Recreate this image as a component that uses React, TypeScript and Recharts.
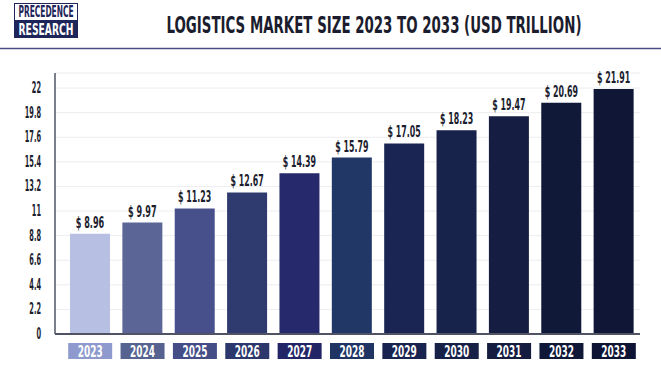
import { Bar, BarChart, CartesianGrid, Cell, LabelList, XAxis, YAxis } from 'recharts';

const years = ['2023', '2024', '2025', '2026', '2027', '2028', '2029', '2030', '2031', '2032', '2033'];
const marketSize = [8.96, 9.97, 11.23, 12.67, 14.39, 15.79, 17.05, 18.23, 19.47, 20.69, 21.91];
const yTicks = [0, 2.2, 4.4, 6.6, 8.8, 11, 13.2, 15.4, 17.6, 19.8, 22];
const title = 'LOGISTICS MARKET SIZE 2023 TO 2033 (USD TRILLION)';

const barColors = [
  '#b7c0e2', '#5b6697', '#48508b', '#2f3a6f', '#26296b', '#213867',
  '#1b2553', '#18234b', '#151e42', '#111939', '#0f1636'
];
const tagColors = [
  '#8e9acd', '#56628f', '#444d86', '#2c376b', '#232666', '#1f3463',
  '#19234f', '#172148', '#141c3f', '#101837', '#0e1534'
];

const data = years.map((year, i) => ({ year, value: marketSize[i] }));

const condensed = '"DejaVu Sans Condensed", "DejaVu Sans", sans-serif';
const ink = '#1b1d2e';

// squeeze text horizontally so it reads like the narrow poster font
function Narrow({ x, y, text, width, size, fill, anchor = 'middle' }: any) {
  const sx = 0.72;
  return (
    <text
      transform={`translate(${x},${y}) scale(${sx},1)`}
      textAnchor={anchor}
      fill={fill}
      fontFamily={condensed}
      fontWeight={700}
      fontSize={size}
      textLength={width / sx}
      lengthAdjust="spacingAndGlyphs"
    >
      {text}
    </text>
  );
}

function YearTag({ x, y, payload, index }: any) {
  return (
    <g>
      <rect x={x - 22} y={y + 1} width={44} height={16} fill={tagColors[index]} />
      <Narrow x={x} y={y + 14.5} text={payload.value} width={25} size={16} fill="#fff" />
    </g>
  );
}

function ValueLabel({ x, y, width, value }: any) {
  const text = `$ ${Number(value).toFixed(2)}`;
  return <Narrow x={x + width / 2} y={y - 6} text={text} width={text.length * 4.75} size={15} fill={ink} />;
}

function YTick({ x, y, payload }: any) {
  const s = String(payload.value);
  const w = s.replace('.', '').length * 4.6 + (s.includes('.') ? 2.5 : 0);
  return <Narrow x={x} y={y + 5} text={s} width={w} size={15} fill={ink} anchor="end" />;
}

function Header() {
  return (
    <svg width={661} height={52} style={{ position: 'absolute', left: 0, top: 0 }}>
      <rect x={14.5} y={3.5} width={63} height={34} fill="#fff" stroke="#1e2558" strokeWidth={1} />
      <rect x={14.5} y={20} width={63} height={17.5} fill="#1e2558" />
      <Narrow x={46} y={17} text="PRECEDENCE" width={55} size={15} fill="#1e2558" />
      <Narrow x={46} y={34.5} text="RESEARCH" width={55} size={16} fill="#fff" />
      <text
        transform="translate(374,33) scale(1,1.6)"
        textAnchor="middle"
        fill={ink}
        fontFamily={condensed}
        fontWeight={700}
        fontSize={14}
        textLength={415}
        lengthAdjust="spacingAndGlyphs"
      >
        {title}
      </text>
      <line x1={0} x2={661} y1={48.5} y2={48.5} stroke="#4d4b86" strokeWidth={1.5} />
    </svg>
  );
}

export default function App() {
  return (
    <div style={{ position: 'absolute', left: 0, top: 0, width: 661, height: 372, background: '#fff' }}>
      <Header />
      <BarChart
        width={661}
        height={372}
        data={data}
        margin={{ top: 73, right: 21, left: 0, bottom: 0 }}
      >
        <CartesianGrid stroke="#ededf2" vertical={false} />
        <XAxis
          dataKey="year"
          axisLine={{ stroke: '#4f5364', strokeWidth: 2 }}
          tickLine={false}
          tick={<YearTag />}
          interval={0}
          height={38}
          padding={{ left: 9, right: 0 }}
        />
        <YAxis
          domain={[0, 23.35]}
          ticks={yTicks}
          interval={0}
          width={55}
          axisLine={{ stroke: '#4f5364', strokeWidth: 1.5 }}
          tickLine={false}
          tick={<YTick />}
          tickMargin={8}
        />
        <Bar dataKey="value" barSize={40} isAnimationActive={false}>
          {data.map((d, i) => (
            <Cell key={d.year} fill={barColors[i]} />
          ))}
          <LabelList dataKey="value" content={<ValueLabel />} />
        </Bar>
      </BarChart>
    </div>
  );
}
